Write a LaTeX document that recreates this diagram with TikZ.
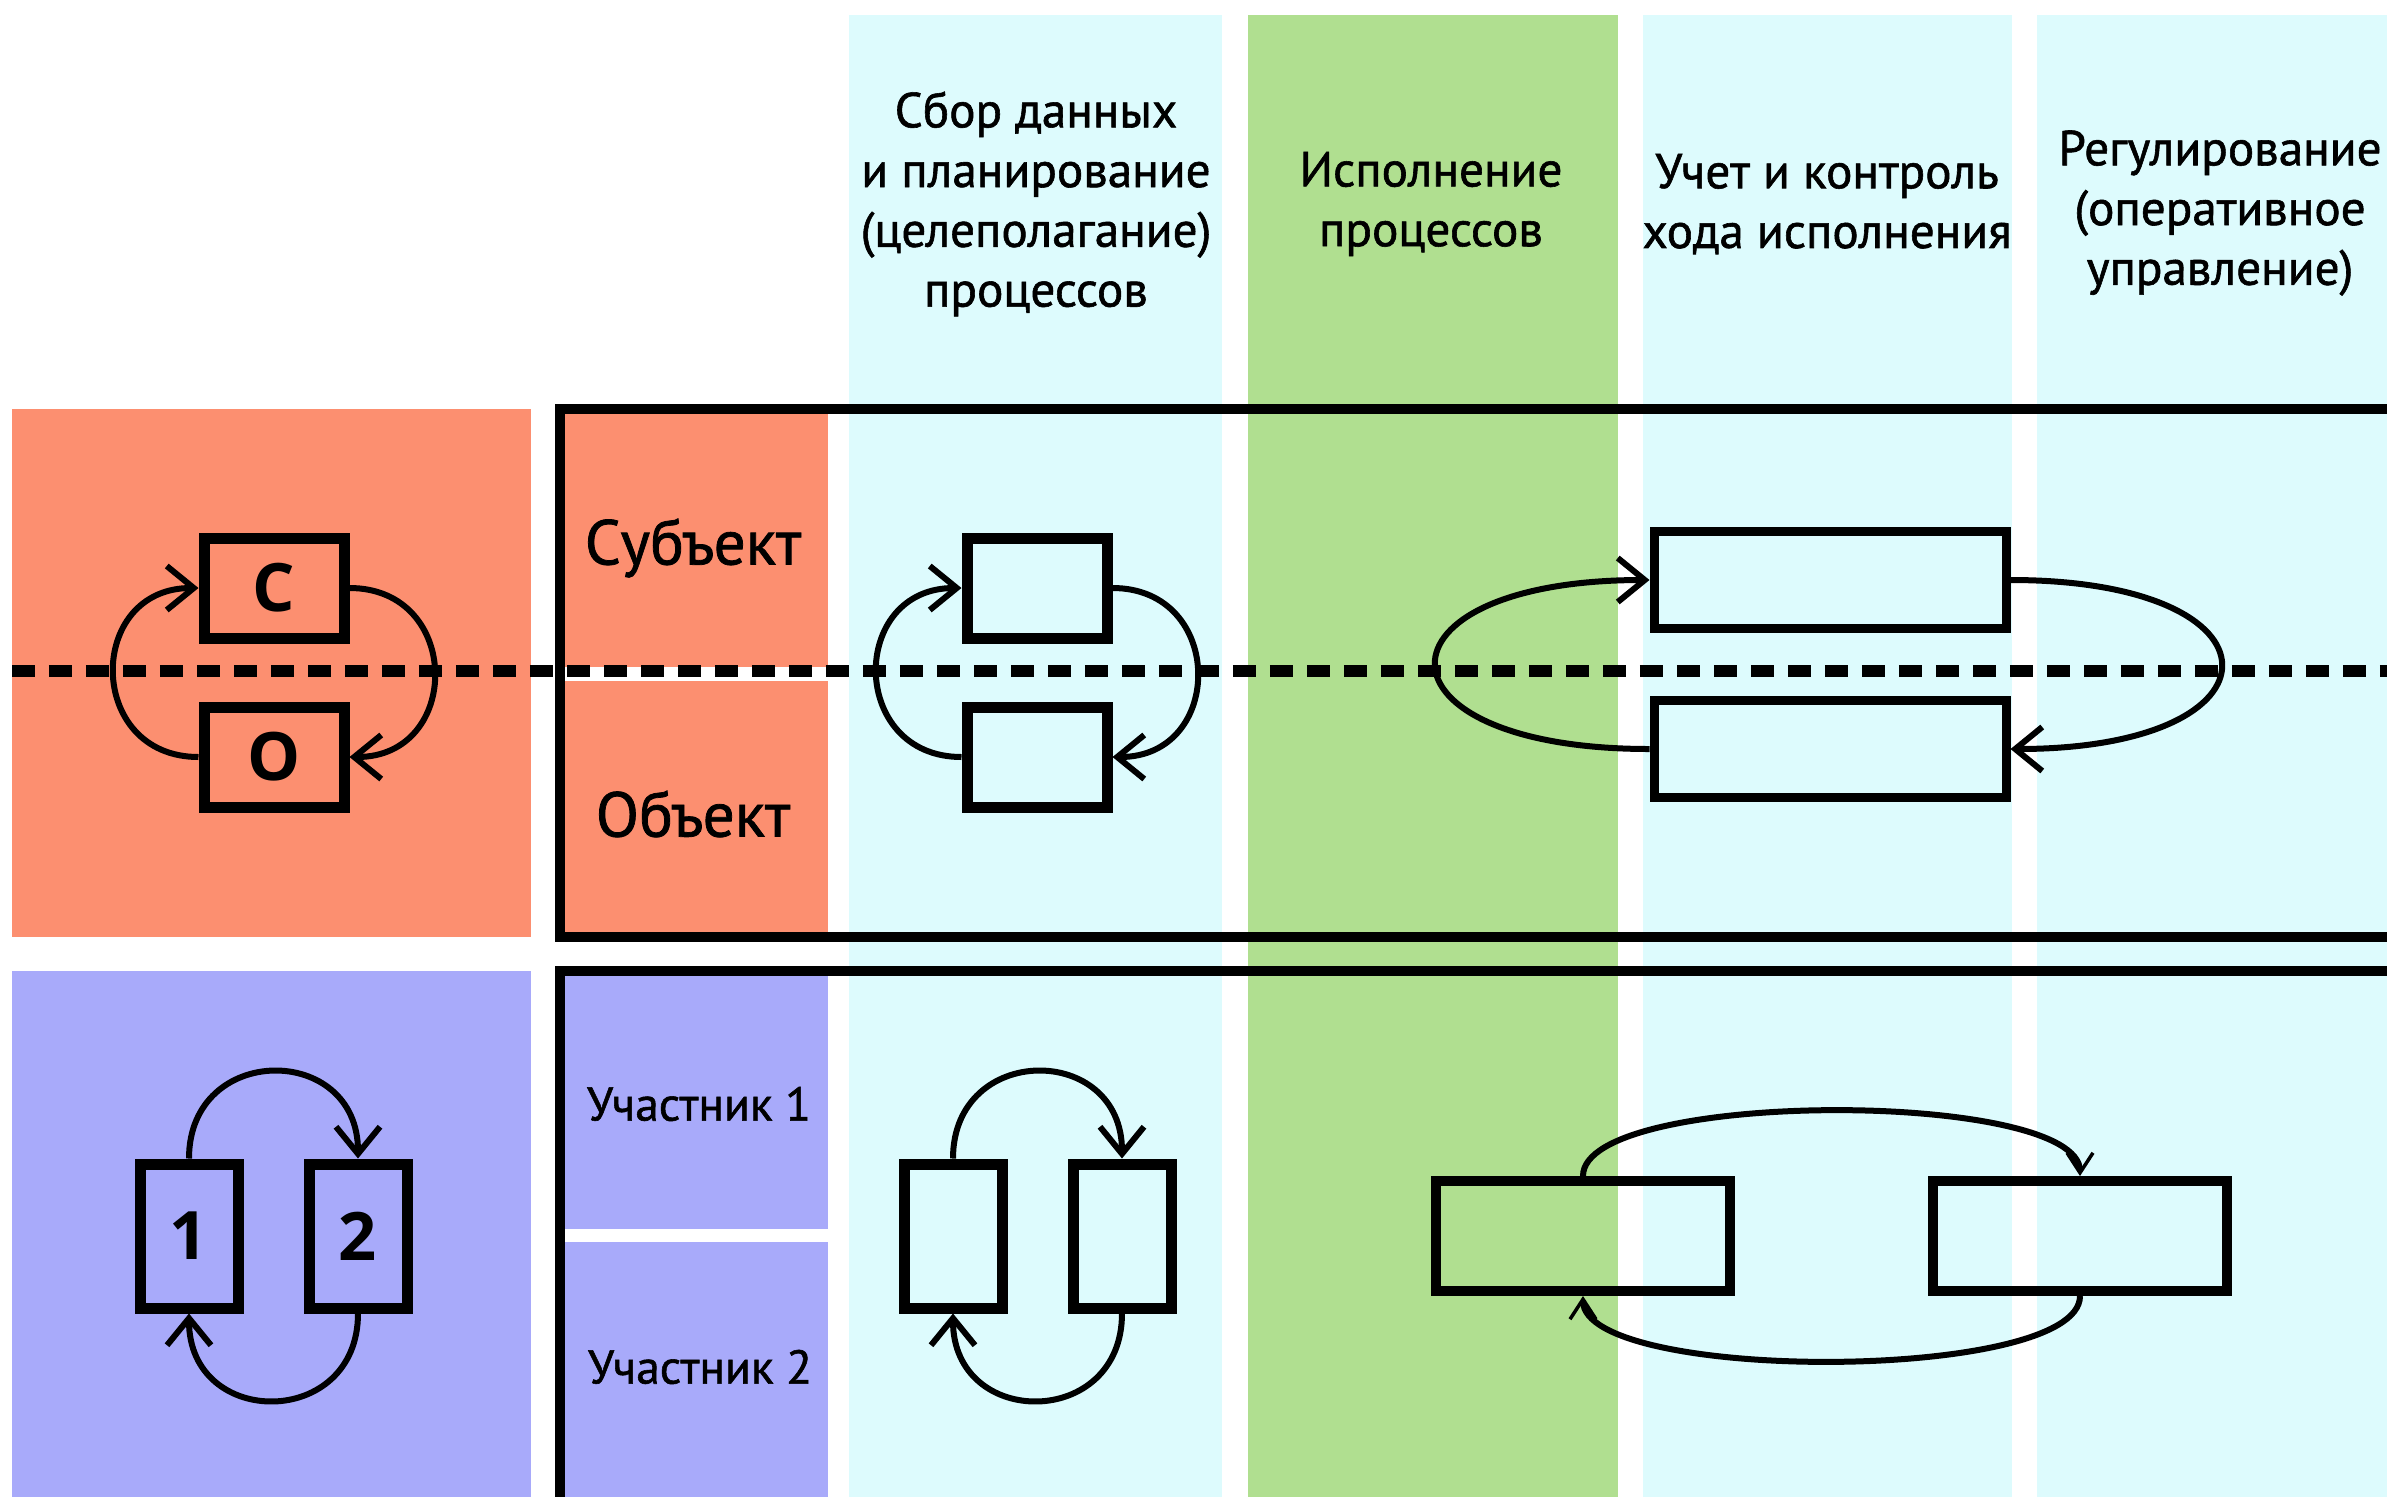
\documentclass[tikz,border=0pt]{standalone}
\usepackage{fontspec}
\setmainfont{PT Sans}[FakeBold=1.2]
\newfontfamily\boxletters{Open Sans}[UprightFont=* Bold]
\usetikzlibrary{arrows.meta}
\definecolor{cyanbg}{RGB}{221,251,253}
\definecolor{greenbg}{RGB}{176,223,144}
\definecolor{orangebg}{RGB}{252,143,112}
\definecolor{purplebg}{RGB}{168,170,250}
\begin{document}
\begin{tikzpicture}[x=0.1mm,y=-0.1mm,
  frameline/.style={draw=black,line width=1.0mm},
  sqbox/.style={draw=black,line width=1.1mm,inner sep=0pt,minimum width=14mm,minimum height=10mm,font=\boxletters\fontsize{19}{19}\selectfont},
  tallbox/.style={draw=black,line width=1.1mm,inner sep=0pt,minimum width=9.8mm,minimum height=14.4mm,font=\boxletters\fontsize{19}{19}\selectfont},
  widebox/.style={draw=black,line width=0.9mm,inner sep=0pt,minimum width=35.2mm,minimum height=9.7mm},
  flatbox/.style={draw=black,line width=1.0mm,inner sep=0pt,minimum width=29.4mm,minimum height=11mm},
  arr/.style={line width=0.6mm,-{Straight Barb[length=2.7mm,width=4.4mm]}},
  thinarr/.style={line width=0.6mm,-{Straight Barb[length=2mm,width=2.6mm,line width=0.35mm]}},
  head/.style={align=center,font=\fontsize{14}{17}\selectfont},
  rolelabel/.style={font=\fontsize{18}{20}\selectfont},
  partlabel/.style={font=\fontsize{13.5}{15}\selectfont}]
\useasboundingbox (0,0) rectangle (2387,1496);
\clip (0,0) rectangle (2387,1496);
\fill[white] (0,0) rectangle (2387,1496);
% columns
\fill[cyanbg] (849,15) rectangle (1222,1510);
\fill[greenbg] (1248,15) rectangle (1618,1510);
\fill[cyanbg] (1643,15) rectangle (2012,1510);
\fill[cyanbg] (2037,15) rectangle (2400,1510);
% left blocks
\fill[orangebg] (12,409) rectangle (531,937);
\fill[purplebg] (12,971) rectangle (531,1510);
% inner label blocks
\fill[orangebg] (560,409) rectangle (828,667);
\fill[orangebg] (560,681) rectangle (828,937);
\fill[purplebg] (560,971) rectangle (828,1229);
\fill[purplebg] (560,1242) rectangle (828,1510);
% frames
\draw[frameline] (2450,409) -- (560,409) -- (560,937) -- (2450,937);
\draw[frameline] (2450,971) -- (560,971) -- (560,1560);
% dashed line
\draw[line width=1.2mm,dash pattern=on 2.3mm off 1.4mm] (12,671) -- (2400,671);
% headers
\node[head] (h1) at (1036,204) {Сбор данных\\и планирование\\(целеполагание)\\процессов};
\node[head] (h2) at (1431,204) {Исполнение\\процессов};
\node[head] (h3) at (1827,204) {Учет и контроль\\хода исполнения};
\node[head] (h4) at (2220,213) {Регулирование\\(оперативное\\управление)};
% role labels
\node[rolelabel] (subj) at (693,548) {Субъект};
\node[rolelabel] (obj) at (693,814) {Объект};
\node[partlabel] (u1) at (699,1104) {Участник 1};
\node[partlabel] (u2) at (700,1367) {Участник 2};
% top-left S/O
\node[sqbox] (C) at (274,588) {С};
\node[sqbox] (O) at (274,757) {О};
\draw[arr] (O.west) .. controls +(-113,0) and +(-113,0) .. (C.west);
\draw[arr] (C.east) .. controls +(113,0) and +(113,0) .. (O.east);
% column A top
\node[sqbox] (a1) at (1037,588) {};
\node[sqbox] (a2) at (1037,757) {};
\draw[arr] (a2.west) .. controls +(-113,0) and +(-113,0) .. (a1.west);
\draw[arr] (a1.east) .. controls +(113,0) and +(113,0) .. (a2.east);
% column C top
\node[widebox] (c1) at (1830,580) {};
\node[widebox] (c2) at (1830,749) {};
\draw[arr] (c2.west) .. controls +(-285,0) and +(-285,0) .. (c1.west);
\draw[arr] (c1.east) .. controls +(281,0) and +(281,0) .. (c2.east);
% bottom-left 1/2
\node[tallbox] (p1) at (189,1236) {1};
\node[tallbox] (p2) at (358,1236) {2};
\draw[arr] (p1.north) .. controls +(0,-116) and +(0,-116) .. (p2.north);
\draw[arr] (p2.south) .. controls +(0,116) and +(0,116) .. (p1.south);
% column A bottom
\node[tallbox] (b1) at (953,1236) {};
\node[tallbox] (b2) at (1122,1236) {};
\draw[arr] (b1.north) .. controls +(0,-116) and +(0,-116) .. (b2.north);
\draw[arr] (b2.south) .. controls +(0,116) and +(0,116) .. (b1.south);
% columns B-D bottom
\node[flatbox] (q1) at (1583,1236) {};
\node[flatbox] (q2) at (2080,1236) {};
\draw[thinarr] (q1.north) .. controls +(0,-87) and +(0,-87) .. (q2.north);
\draw[thinarr] (q2.south) .. controls +(0,87) and +(0,87) .. (q1.south);
\end{tikzpicture}
\end{document}
